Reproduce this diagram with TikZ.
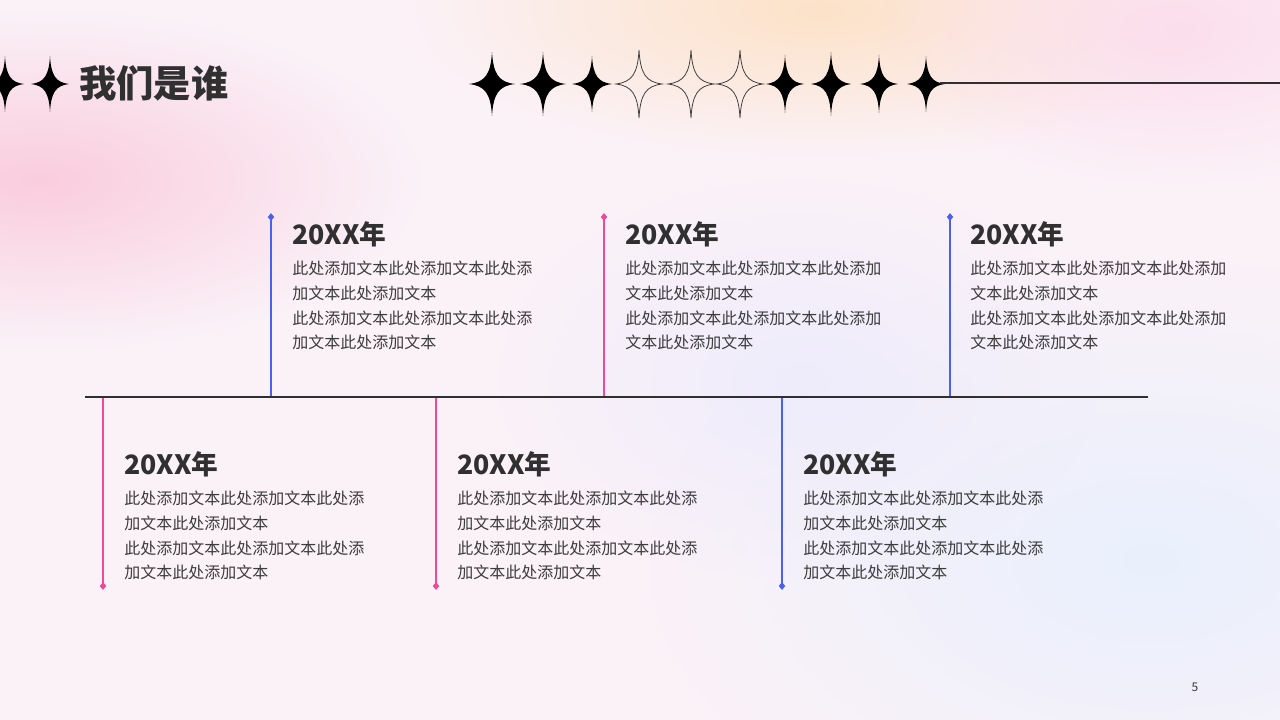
\documentclass[tikz,border=0pt]{standalone}
\usepackage{fontspec}
\setmainfont{Noto Sans CJK SC}
\usetikzlibrary{shapes.geometric,fadings}
\tikzfading[name=blobfade, inner color=transparent!0, outer color=transparent!100]
\definecolor{tlblue}{HTML}{4A60F0}
\definecolor{tlpink}{HTML}{F0489A}
\definecolor{txtc}{HTML}{3C3C3C}
\definecolor{headc}{HTML}{303030}
\definecolor{bgbase}{HTML}{FBF2F8}
\tikzset{
  mystar/.pic={\path[pic actions] (0,-1) .. controls (0.06,-0.3) and (0.3,-0.06) .. (1,0) .. controls (0.3,0.06) and (0.06,0.3) .. (0,1) .. controls (-0.06,0.3) and (-0.3,0.06) .. (-1,0) .. controls (-0.3,-0.06) and (-0.06,-0.3) .. cycle;},
  fstar/.style={fill=black},
  ostar/.style={draw=black!75,line width=0.6pt},
  yearhead/.style={anchor=west,inner sep=0,text=headc,font=\fontsize{20}{24}\selectfont\bfseries},
  bodytxt/.style={anchor=north west,inner sep=0,align=left,text=txtc,font=\fontsize{12}{18.5}\selectfont},
  endmark/.style={diamond,fill=#1,inner sep=0,minimum width=5pt,minimum height=6pt},
  stem/.style={draw=#1,line width=1.5pt},
}
\begin{document}
\begin{tikzpicture}[x=0.75pt,y=-0.75pt]
\useasboundingbox (0,0) rectangle (1280,720);
% background
\fill[bgbase] (0,0) rectangle (1280,720);
\begin{scope}
\clip (0,0) rectangle (1280,720);
\fill[color={rgb,255:red,250;green,205;blue,222}, path fading=blobfade] (40,180) ellipse (380 and 170);
\fill[color={rgb,255:red,253;green,226;blue,200}, path fading=blobfade] (820,10) ellipse (420 and 150);
\fill[color={rgb,255:red,252;green,222;blue,236}, path fading=blobfade] (1180,30) ellipse (300 and 160);
\fill[color={rgb,255:red,233;green,240;blue,253}, path fading=blobfade] (1150,560) ellipse (500 and 300);
\fill[color={rgb,255:red,238;green,236;blue,252}, path fading=blobfade] (800,380) ellipse (300 and 200);
\end{scope}
% left stars and title
\pic[fstar,xscale=19,yscale=28] at (5,84) {mystar};
\pic[fstar,xscale=19,yscale=28] at (50,84) {mystar};
\node[anchor=west,inner sep=0,text=headc,font=\fontsize{28}{30}\selectfont\bfseries] (title) at (79,83) {我们是谁};
% star row
\pic[fstar,xscale=23,yscale=32] at (492,84) {mystar};
\pic[fstar,xscale=23,yscale=32] at (543,84) {mystar};
\pic[fstar,xscale=20,yscale=28] at (592,84) {mystar};
\pic[ostar,xscale=23,yscale=34] at (639,84) {mystar};
\pic[ostar,xscale=23,yscale=34] at (691,84) {mystar};
\pic[ostar,xscale=23,yscale=34] at (740,84) {mystar};
\pic[fstar,xscale=19,yscale=29] at (785,84) {mystar};
\pic[fstar,xscale=20,yscale=32] at (831,84) {mystar};
\pic[fstar,xscale=19,yscale=29] at (879,84) {mystar};
\pic[fstar,xscale=19,yscale=28] at (926,84) {mystar};
\coordinate (rl1) at (940,83);
\coordinate (rl2) at (1280,83);
\draw[headc,line width=1.1pt] (rl1) -- (rl2);
% timeline
\coordinate (tl1) at (85,397);
\coordinate (tl2) at (1148,397);
% stems
\node[endmark=tlblue] (d1) at (271,217) {};
\node[endmark=tlpink] (d2) at (604,217) {};
\node[endmark=tlblue] (d3) at (950,217) {};
\node[endmark=tlpink] (d4) at (103,586) {};
\node[endmark=tlpink] (d5) at (436,586) {};
\node[endmark=tlblue] (d6) at (782,586) {};
\coordinate (b1) at (271,397);
\coordinate (b2) at (604,397);
\coordinate (b3) at (950,397);
\coordinate (b4) at (103,397);
\coordinate (b5) at (436,397);
\coordinate (b6) at (782,397);
\draw[stem=tlblue] (b1) -- (d1.center);
\draw[stem=tlpink] (b2) -- (d2.center);
\draw[stem=tlblue] (b3) -- (d3.center);
\draw[stem=tlpink] (b4) -- (d4.center);
\draw[stem=tlpink] (b5) -- (d5.center);
\draw[stem=tlblue] (b6) -- (d6.center);
\draw[headc,line width=1.5pt] (tl1) -- (tl2);
% texts upper
\node[yearhead] (h1) at (292,234) {20XX年};
\node[bodytxt] (t1) at (292,261) {此处添加文本此处添加文本此处添\\加文本此处添加文本\\此处添加文本此处添加文本此处添\\加文本此处添加文本};
\node[yearhead] (h2) at (625,234) {20XX年};
\node[bodytxt] (t2) at (625,261) {此处添加文本此处添加文本此处添加\\文本此处添加文本\\此处添加文本此处添加文本此处添加\\文本此处添加文本};
\node[yearhead] (h3) at (970,234) {20XX年};
\node[bodytxt] (t3) at (970,261) {此处添加文本此处添加文本此处添加\\文本此处添加文本\\此处添加文本此处添加文本此处添加\\文本此处添加文本};
% texts lower
\node[yearhead] (h4) at (124,464) {20XX年};
\node[bodytxt] (t4) at (124,491) {此处添加文本此处添加文本此处添\\加文本此处添加文本\\此处添加文本此处添加文本此处添\\加文本此处添加文本};
\node[yearhead] (h5) at (457,464) {20XX年};
\node[bodytxt] (t5) at (457,491) {此处添加文本此处添加文本此处添\\加文本此处添加文本\\此处添加文本此处添加文本此处添\\加文本此处添加文本};
\node[yearhead] (h6) at (803,464) {20XX年};
\node[bodytxt] (t6) at (803,491) {此处添加文本此处添加文本此处添\\加文本此处添加文本\\此处添加文本此处添加文本此处添\\加文本此处添加文本};
% page number
\node[inner sep=0,text=txtc,font=\fontsize{9}{10}\selectfont] (pg) at (1195,687) {5};
\end{tikzpicture}
\end{document}
